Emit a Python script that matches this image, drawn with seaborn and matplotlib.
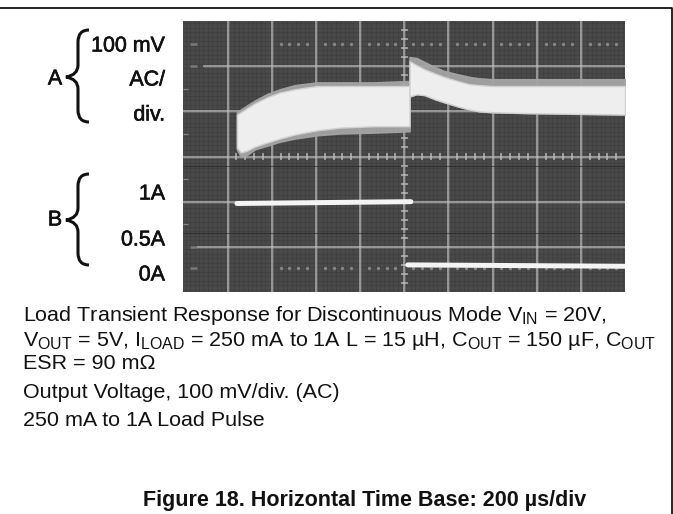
import numpy as np
import seaborn as sns
import matplotlib
matplotlib.use("Agg")
import matplotlib.pyplot as plt
import matplotlib._mathtext as _mt
from matplotlib.path import Path
from matplotlib.patches import PathPatch
import matplotlib.patheffects as pe

_mt.SHRINK_FACTOR = 0.74

# ---- data, in scope divisions ----
a1_x = [1.21, 1.30, 1.44, 1.62, 1.89, 2.19, 2.53, 3.02, 3.54, 4.29, 5.12]
a1_halo_top = [3.98, 4.04, 4.13, 4.24, 4.38, 4.49, 4.58, 4.64, 4.64, 4.64, 4.67]
a1_white_top = [3.93, 3.98, 4.07, 4.18, 4.31, 4.42, 4.49, 4.56, 4.56, 4.56, 4.56]
a1_white_bot = [3.20, 3.09, 3.13, 3.22, 3.31, 3.40, 3.49, 3.58, 3.64, 3.67, 3.67]
a1_halo_bot = [3.16, 3.00, 3.04, 3.16, 3.24, 3.33, 3.40, 3.47, 3.51, 3.53, 3.56]
a2_x = [5.12, 5.28, 5.46, 5.69, 5.91, 6.21, 6.48, 6.70, 7.00, 7.85, 10.0]
a2_halo_top = [5.20, 5.18, 5.09, 4.98, 4.89, 4.82, 4.76, 4.73, 4.71, 4.71, 4.71]
a2_white_top = [5.11, 5.02, 4.93, 4.84, 4.76, 4.67, 4.60, 4.58, 4.56, 4.56, 4.56]
a2_white_bot = [4.33, 4.38, 4.36, 4.27, 4.20, 4.11, 4.04, 4.00, 3.98, 3.96, 3.93]
pulse_hi_x = [1.21, 5.15]
pulse_hi_y = [1.96, 2.00]
pulse_lo_x = [5.08, 10.0]
pulse_lo_y = [0.60, 0.57]
a_labels = ["100 mV", "AC/", "div."]
b_labels = ["1A", "0.5A", "0A"]
caption_lines = [
    r"Load Transient Response for Discontinuous Mode V$_{\mathrm{IN}}$ = 20V,",
    r"V$_{\mathrm{OUT}}$ = 5V, I$_{\mathrm{LOAD}}$ = 250 mA to 1A L = 15 µH, C$_{\mathrm{OUT}}$ = 150 µF, C$_{\mathrm{OUT}}$",
    "ESR = 90 mΩ",
    "Output Voltage, 100 mV/div. (AC)",
    "250 mA to 1A Load Pulse",
]
figure_title = "Figure 18. Horizontal Time Base: 200 µs/div"

sns.set_theme(style="white")
plt.rcParams["font.family"] = ["Liberation Sans", "DejaVu Sans"]
plt.rcParams["mathtext.fontset"] = "custom"
plt.rcParams["mathtext.rm"] = "Liberation Sans"
plt.rcParams["mathtext.default"] = "rm"

W, H = 673, 514
fig = plt.figure(figsize=(W / 100, H / 100), dpi=100, facecolor="white")

# page overlay in pixel coordinates
page = fig.add_axes([0, 0, 1, 1])
page.set_xlim(0, W)
page.set_ylim(H, 0)
page.axis("off")
page.plot([0, 671.5, 671.5], [7.5, 7.5, H], color="black", lw=1.2)

heavy = [pe.withStroke(linewidth=0.45, foreground="#111111")]
for txt, y in zip(a_labels + b_labels, [46, 80, 115, 194, 240, 275]):
    page.text(165, y, txt, ha="right", va="center", fontsize=15.4, color="#111111", path_effects=heavy)
page.text(55, 79, "A", ha="center", va="center", fontsize=15.4, color="#111111", path_effects=heavy)
page.text(55, 220, "B", ha="center", va="center", fontsize=15.4, color="#111111", path_effects=heavy)


def brace(top, tip, bottom):
    verts = [(89, top), (78, top), (78, top + 12), (78, tip - 12), (78, tip - 2), (66, tip),
             (78, tip + 2), (78, tip + 12), (78, bottom - 12), (78, bottom), (89, bottom)]
    codes = [Path.MOVETO, Path.CURVE3, Path.CURVE3, Path.LINETO, Path.CURVE3, Path.CURVE3,
             Path.CURVE3, Path.CURVE3, Path.LINETO, Path.CURVE3, Path.CURVE3]
    page.add_patch(PathPatch(Path(verts, codes), fc="none", ec="#111111", lw=2.2))


brace(30, 77, 122)
brace(174, 220, 265)

y_cap = [321, 346, 369, 398, 426]
for txt, y in zip(caption_lines, y_cap):
    page.text(23, y, txt, ha="left", va="baseline", fontsize=15.45, color="#111111")
page.text(143, 506, figure_title, ha="left", va="baseline", fontsize=15.5,
          fontweight="bold", color="#111111")

# scope axes
ax = fig.add_axes([183.5 / W, 1 - 292 / H, 441.5 / W, 271 / H])
ax.set_facecolor("#4a4a4a")
for s in ax.spines.values():
    s.set_visible(False)

# faint phosphor mesh
mesh_x = np.arange(0.05, 10, 0.1)
mesh_y = np.arange(0.05, 6, 0.1)
ax.vlines(mesh_x, 0, 6, color="#2c2c2c", lw=0.9, alpha=0.22, zorder=0.5)
ax.hlines(mesh_y, 0, 10, color="#2c2c2c", lw=0.9, alpha=0.22, zorder=0.5)

GRID = "#c2c2c2"
for xv in range(1, 10):
    ax.axvline(xv, color=GRID, lw=2.3, alpha=0.22, zorder=1)
    ax.axvline(xv, color=GRID, lw=1.1, alpha=0.7, zorder=1)
for yv, start in zip(range(1, 6), [0.3, 0, 0, 0, 0.45]):
    ax.hlines(yv, start, 10, color=GRID, lw=2.3, alpha=0.22, zorder=1)
    ax.hlines(yv, start, 10, color=GRID, lw=1.1, alpha=0.7, zorder=1)
for yv in [2.79, 1.31]:
    ax.axhline(yv, color="#222222", lw=0.8, alpha=0.6, zorder=1)

minor = np.array([v for v in np.arange(1.2, 10, 0.2) if abs(v - round(v)) > 0.05])
minor_y = np.array([v for v in np.arange(0.2, 6, 0.2) if abs(v - round(v)) > 0.05])
dots = np.array([v for v in np.arange(2.2, 10, 0.2) if abs(v - round(v)) > 0.05])
ax.vlines(minor, 2.93, 3.07, color=GRID, lw=1.4, alpha=0.7, zorder=1)
ax.hlines(minor_y, 4.92, 5.08, color=GRID, lw=1.4, alpha=0.7, zorder=1)
ax.hlines([1.5, 2.5, 3.5, 4.5], 0, 0.1, color=GRID, lw=0.9, alpha=0.5, zorder=1)
ax.scatter(dots, np.full_like(dots, 5.49), s=6, color=GRID, alpha=0.5, lw=0, zorder=1)
ax.scatter(dots, np.full_like(dots, 0.53), s=6, color=GRID, alpha=0.5, lw=0, zorder=1)
ax.hlines([5.49, 5.0, 1.0, 0.53], 0.15, 0.3, color=GRID, lw=1.8, alpha=0.4, zorder=1)

HALO = "#a4a4a4"
WHITE = "#eeeeee"
ax.fill_between(a1_x, a1_halo_bot, a1_halo_top, facecolor=HALO, edgecolor=HALO, lw=1.2, alpha=0.95, zorder=2)
ax.fill_between(a1_x, a1_white_bot, a1_white_top, facecolor=WHITE, edgecolor="#d2d2d2", lw=1.0, zorder=3)
ax.fill_between(a2_x, a2_white_bot, a2_halo_top, facecolor=HALO, edgecolor=HALO, lw=1.2, alpha=0.95, zorder=2)
ax.fill_between(a2_x, a2_white_bot, a2_white_top, facecolor=WHITE, edgecolor="#d2d2d2", lw=1.0, zorder=3)

sns.lineplot(x=pulse_hi_x, y=pulse_hi_y, ax=ax, color="#f4f4f4", lw=3.6, zorder=4)
sns.lineplot(x=pulse_lo_x, y=pulse_lo_y, ax=ax, color="#f4f4f4", lw=3.6, zorder=4)
ax.set_xlim(0, 10)
ax.set_ylim(0, 6)
ax.set_xticks([])
ax.set_yticks([])

fig.savefig("out.png", dpi=100)
